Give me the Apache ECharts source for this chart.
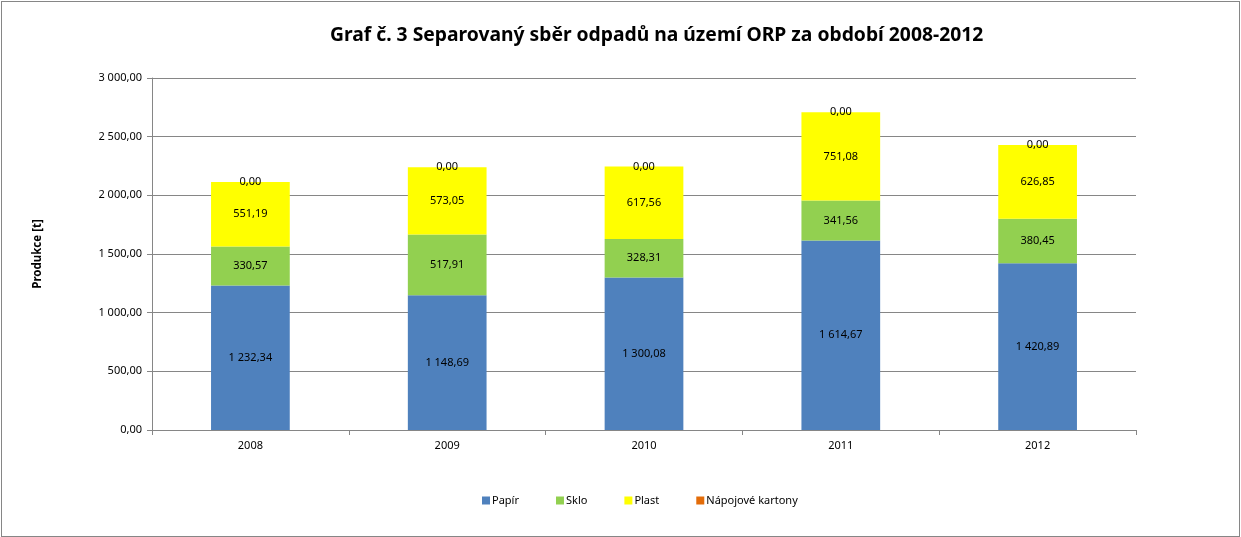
<!DOCTYPE html>
<html>
<head>
<meta charset="utf-8">
<script src="https://cdn.jsdelivr.net/npm/echarts@6/dist/echarts.min.js"></script>
<style>
html, body { margin: 0; padding: 0; background: #fff; }
#ct1 { position: absolute; left: 1px; top: 1px; width: 1237px; height: 534px; border: 1px solid #868686; }
</style>
</head>
<body>
<div id="ct1"></div>
<script>
var years = ['2008', '2009', '2010', '2011', '2012'];
var papir = [1232.34, 1148.69, 1300.08, 1614.67, 1420.89];
var sklo = [330.57, 517.91, 328.31, 341.56, 380.45];
var plast = [551.19, 573.05, 617.56, 751.08, 626.85];
var kartony = [0, 0, 0, 0, 0];
var seriesNames = ['Papír', 'Sklo', 'Plast', 'Nápojové kartony'];
var seriesColors = ['#4F81BD', '#92D050', '#FFFF00', '#E36C09'];

function fmt(v) {
	var s = Number(v).toFixed(2).split('.');
	var ip = s[0].replace(/\B(?=(\d{3})+(?!\d))/g, ' ');
	return ip + ',' + s[1];
}

var font = 'Noto Sans';
var allData = [papir, sklo, plast, kartony];
var series = [];
for (var i = 0; i < allData.length; i++) {
	series.push({
		name: seriesNames[i],
		type: 'bar',
		stack: 'total',
		barWidth: '40%',
		data: allData[i],
		itemStyle: { color: seriesColors[i] },
		label: {
			show: true,
			position: 'inside',
			color: '#000',
			fontFamily: font,
			fontSize: 11,
			formatter: function (p) { return fmt(p.value); }
		}
	});
}

var option1 = {
	animation: false,
	title: {
		text: 'Graf č. 3 Separovaný sběr odpadů na území ORP za období 2008-2012',
		left: 323, top: 19,
		textStyle: { fontFamily: font, fontSize: 19.3, fontWeight: 'bold', color: '#000' }
	},
	legend: {
		bottom: 25, left: 475,
		itemWidth: 8, itemHeight: 8, itemGap: 37,
		icon: 'rect',
		textStyle: { fontFamily: font, fontSize: 11, color: '#000', padding: [0, 0, 0, -3] },
		data: seriesNames
	},
	grid: { left: 150, right: 103, top: 76, bottom: 106 },
	xAxis: {
		type: 'category',
		data: years,
		axisLine: { lineStyle: { color: '#868686' } },
		axisTick: { show: true, length: 5, lineStyle: { color: '#868686' } },
		axisLabel: { color: '#000', fontFamily: font, fontSize: 11, margin: 10 }
	},
	yAxis: {
		type: 'value',
		min: 0, max: 3000, interval: 500,
		name: 'Produkce [t]',
		nameLocation: 'middle',
		nameGap: 108,
		nameTextStyle: { fontFamily: font, fontSize: 11.5, fontWeight: 'bold', color: '#000' },
		axisLine: { show: true, lineStyle: { color: '#868686' } },
		axisTick: { show: true, length: 5, lineStyle: { color: '#868686' } },
		splitLine: { lineStyle: { color: '#868686' } },
		axisLabel: { color: '#000', fontFamily: font, fontSize: 11, margin: 10, formatter: fmt }
	},
	series: series
};

var myChart1 = echarts.init(document.getElementById('ct1'));
myChart1.setOption(option1, true);
</script>
</body>
</html>
